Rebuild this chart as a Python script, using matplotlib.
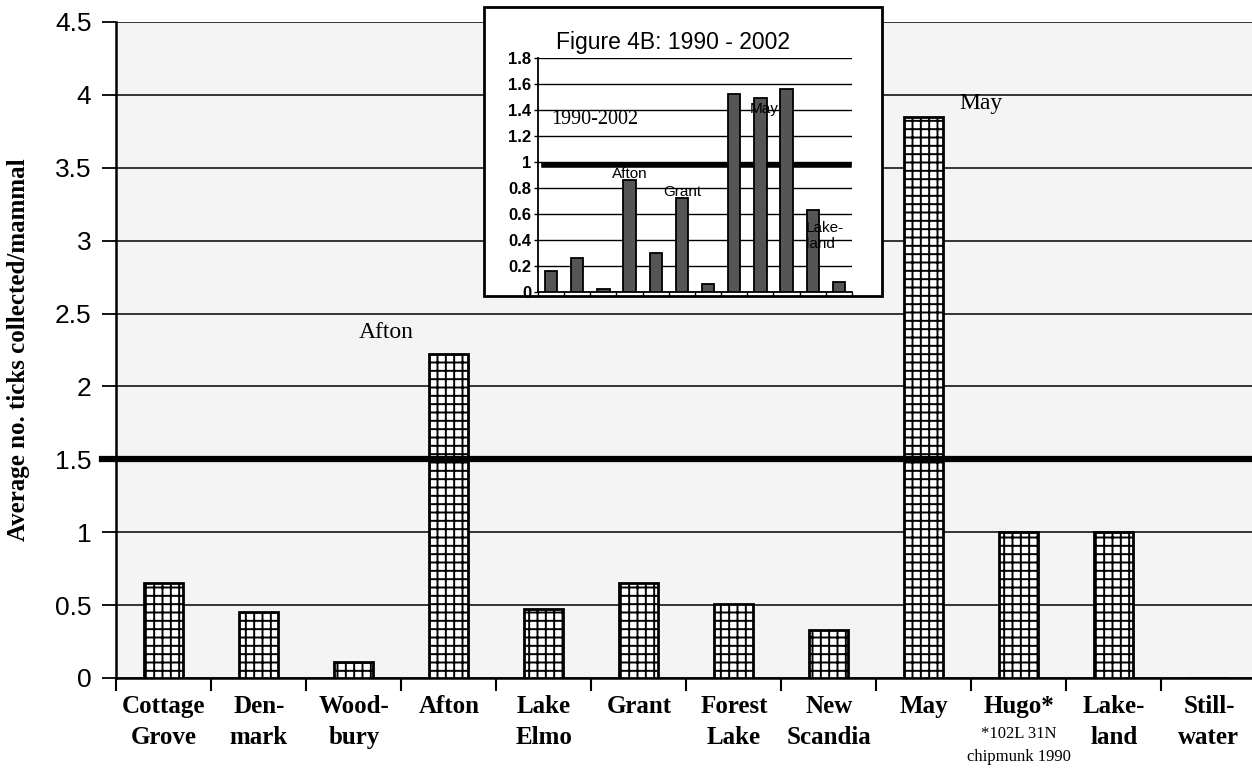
import matplotlib
matplotlib.use('Agg')
import matplotlib.pyplot as plt
from matplotlib.patches import Rectangle
import numpy as np

# Main chart data (average ticks per mammal by township)
townships = ['Cottage\nGrove', 'Den-\nmark', 'Wood-\nbury', 'Afton', 'Lake\nElmo', 'Grant',
             'Forest\nLake', 'New\nScandia', 'May', 'Hugo*', 'Lake-\nland', 'Still-\nwater']
avg_ticks = [0.65, 0.45, 0.11, 2.22, 0.47, 0.65, 0.51, 0.33, 3.85, 1.0, 1.0, 0.0]
threshold_main = 1.5
y_ticks_main = [0, 0.5, 1, 1.5, 2, 2.5, 3, 3.5, 4, 4.5]

# Inset data: Figure 4B, 1990 - 2002
inset_ticks = [0.16, 0.26, 0.02, 0.86, 0.30, 0.72, 0.06, 1.52, 1.49, 1.56, 0.63, 0.08]
threshold_inset = 0.98
y_ticks_inset = [0, 0.2, 0.4, 0.6, 0.8, 1, 1.2, 1.4, 1.6, 1.8]

serif = 'Liberation Serif'
sans = 'Liberation Sans'

fig = plt.figure(figsize=(12.52, 7.68), dpi=100)
ax = fig.add_axes([0.093, 0.1172, 0.9105, 0.8542])
ax.set_facecolor('#f4f4f4')

x = np.arange(len(townships))
plt.rcParams['hatch.linewidth'] = 1.4
ax.bar(x, avg_ticks, width=0.41, facecolor='white', edgecolor='black',
       linewidth=2, hatch='++', zorder=3)

ax.set_xlim(-0.5, len(townships) - 0.5)
ax.set_ylim(0, 4.5)
ax.set_yticks(y_ticks_main)
ax.set_yticklabels([f'{v:g}' for v in y_ticks_main], fontfamily=sans, fontsize=19)
ax.yaxis.grid(True, color='black', linewidth=1.1, zorder=1)
ax.set_axisbelow(True)
ax.axhline(threshold_main, xmin=-0.013, xmax=1, color='black', linewidth=4.5,
           zorder=4, clip_on=False)

ax.set_xticks(x)
ax.set_xticklabels(townships, fontfamily=serif, fontweight='bold', fontsize=18,
                   linespacing=1.45)
ax.set_xticks(np.arange(len(townships) + 1) - 0.5, minor=True)
ax.tick_params(axis='x', which='major', length=0, pad=12)
ax.tick_params(axis='x', which='minor', length=9, width=1.5, direction='out')
ax.tick_params(axis='y', length=10, width=1.3, direction='out', pad=8)

for side in ['top', 'right']:
    ax.spines[side].set_visible(False)
ax.spines['left'].set_linewidth(1.8)
ax.spines['bottom'].set_linewidth(1.8)

ax.set_ylabel('Average no. ticks collected/mammal', fontfamily=serif,
              fontweight='bold', fontsize=18)
ax.yaxis.set_label_coords(-0.076, 0.5)

# Hugo footnote under its label
hugo = townships.index('Hugo*')
ax.text(hugo, -0.073, '*102L 31N\nchipmunk 1990', transform=ax.get_xaxis_transform(),
        ha='center', va='top', fontfamily=serif, fontsize=12, linespacing=1.6)

# Bar annotations
afton = townships.index('Afton')
ax.text(afton - 0.37, avg_ticks[afton] + 0.15, 'Afton', ha='right', va='center',
        fontfamily=serif, fontsize=17, zorder=5)
may = townships.index('May')
ax.text(may + 0.37, avg_ticks[may] + 0.09, 'May', ha='left', va='center',
        fontfamily=serif, fontsize=17, zorder=5)

# Inset frame
frame = Rectangle((0.3866, 0.6146), 0.3179, 0.3764, transform=fig.transFigure,
                  facecolor='white', edgecolor='black', linewidth=2, zorder=5)
fig.add_artist(frame)
fig.text(0.5375, 0.945, 'Figure 4B: 1990 - 2002', ha='center', va='center',
         fontfamily=sans, fontsize=16.5, zorder=7)

ins = fig.add_axes([0.4297, 0.6198, 0.2508, 0.3047], zorder=6)
ins.set_facecolor('white')
ins.bar(x, inset_ticks, width=0.47, facecolor='#555555', edgecolor='black',
        linewidth=1.3, zorder=3)
ins.set_xlim(-0.5, len(townships) - 0.5)
ins.set_ylim(0, 1.8)
ins.set_yticks(y_ticks_inset)
ins.set_yticklabels([f'{v:g}' for v in y_ticks_inset], fontfamily=sans,
                    fontweight='bold', fontsize=12)
ins.yaxis.grid(True, color='black', linewidth=1.0)
ins.set_axisbelow(True)
ins.axhline(threshold_inset, xmin=0.02, xmax=0.99, color='black', linewidth=4, zorder=2)
ins.set_xticks(np.arange(len(townships) + 1) - 0.5)
ins.set_xticklabels([])
ins.tick_params(axis='x', length=3, width=1, direction='out')
ins.tick_params(axis='y', length=3, width=1, direction='out', pad=2)
for side in ['top', 'right']:
    ins.spines[side].set_visible(False)
ins.spines['left'].set_linewidth(1.3)
ins.spines['bottom'].set_linewidth(1.3)

ins.text(0.0, 1.33, '1990-2002', fontfamily=serif, fontsize=14.5, va='center', ha='left')
ins.text(afton, inset_ticks[afton] - 0.01, 'Afton', ha='center', va='bottom',
         fontfamily=sans, fontsize=11, zorder=4)
grant = townships.index('Grant')
ins.text(grant, inset_ticks[grant] + 0.05, 'Grant', ha='center', va='center',
         fontfamily=sans, fontsize=11, zorder=4)
ins.text(may + 0.15, inset_ticks[may] - 0.08, 'May', ha='center', va='center',
         fontfamily=sans, fontsize=11, zorder=4)
lakeland = townships.index('Lake-\nland')
ins.text(lakeland - 0.25, inset_ticks[lakeland] - 0.2, 'Lake-\nland', ha='left', va='center',
         fontfamily=sans, fontsize=11, zorder=4, linespacing=1.2)

fig.savefig('out.png', dpi=100)
